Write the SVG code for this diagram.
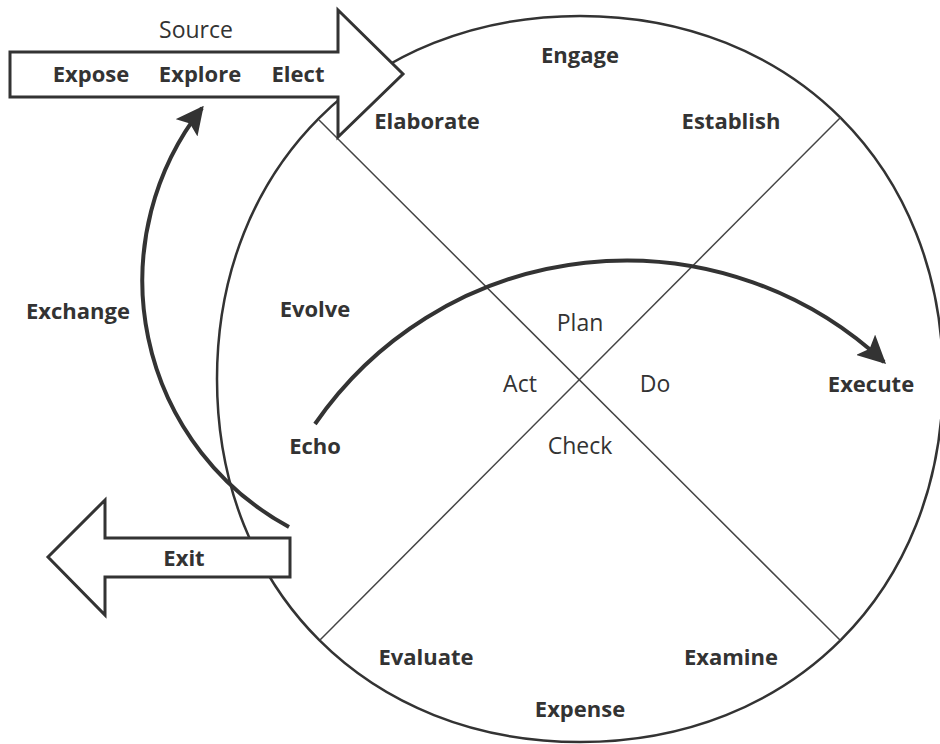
<svg xmlns="http://www.w3.org/2000/svg" width="940" height="744" viewBox="0 0 940 744">
<defs>
<style>
.t{font-family:"Open Sans","Noto Sans","Liberation Sans",sans-serif;font-size:23px;fill:#333;text-anchor:middle}
.b{font-weight:700;font-size:22px}
.shape{fill:#fff;stroke:#333;stroke-width:3;stroke-linejoin:miter}
.ring{fill:none;stroke:#333;stroke-width:2.5}
.cross{stroke:#444;stroke-width:1.5;fill:none}
.flow{fill:none;stroke:#333;stroke-width:4}
</style>
<marker id="ah" viewBox="0 0 10 10" refX="9" refY="5" markerWidth="7" markerHeight="7" markerUnits="strokeWidth" orient="auto">
<path d="M0,0 L10,5 L0,10 L2,5 z" fill="#333"/>
</marker>
</defs>
<rect width="940" height="744" fill="#fff"/>
<g id="cycle">
<path class="ring" d="M943,379 C943,590.8 791.8,742 580,742 C368.2,742 217,590.8 217,379 C217,167.2 368.2,16 580,16 C791.8,16 943,167.2 943,379 Z"/>
<line class="cross" x1="319" y1="120" x2="841" y2="641"/>
<line class="cross" x1="841" y1="117" x2="320" y2="640"/>
</g>
<g id="source">
<path class="shape" d="M10,52 H338 V10 L403,74 L338,137 V97 H10 Z"/>
<text class="t" x="196" y="38">Source</text>
<text class="t b" x="91" y="82">Expose</text>
<text class="t b" x="200" y="82">Explore</text>
<text class="t b" x="298" y="82">Elect</text>
</g>
<g id="exit">
<path class="shape" d="M290,538 H105 V500 L48,557 L105,615 V577 H290 Z"/>
<text class="t b" x="184" y="566">Exit</text>
</g>
<g id="connectors">
<path class="flow" d="M289,527 A280,280 0 0 1 202,108" marker-end="url(#ah)"/>
<path class="flow" d="M315,424 A378,378 0 0 1 884,362" marker-end="url(#ah)"/>
</g>
<g id="labels">
<text class="t b" x="580" y="63">Engage</text>
<text class="t b" x="427" y="129">Elaborate</text>
<text class="t b" x="731" y="129">Establish</text>
<text class="t b" x="315" y="317">Evolve</text>
<text class="t b" x="78" y="319">Exchange</text>
<text class="t b" x="315" y="454">Echo</text>
<text class="t b" x="871" y="392">Execute</text>
<text class="t b" x="426" y="665">Evaluate</text>
<text class="t b" x="731" y="665">Examine</text>
<text class="t b" x="580" y="717">Expense</text>
<text class="t" x="580" y="331">Plan</text>
<text class="t" x="520" y="392">Act</text>
<text class="t" x="655" y="392">Do</text>
<text class="t" x="580" y="454">Check</text>
</g>
</svg>
